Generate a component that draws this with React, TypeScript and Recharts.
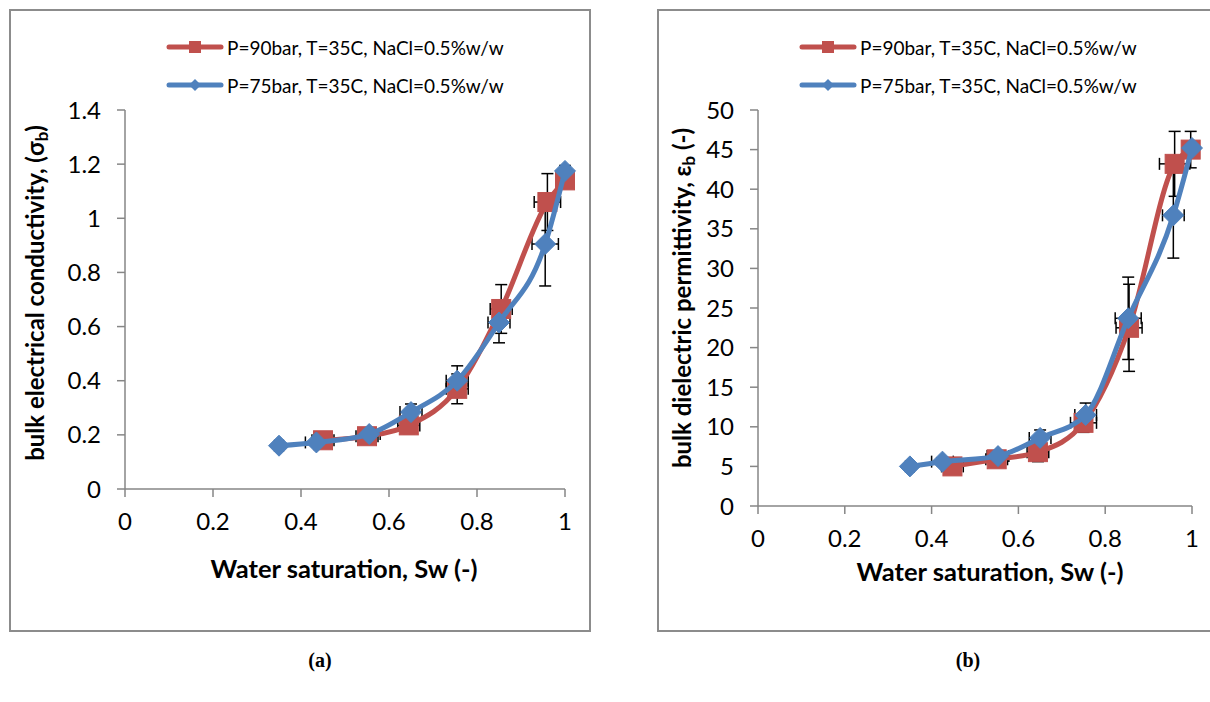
import React from 'react';
import { ScatterChart, Scatter, XAxis, YAxis, ErrorBar } from 'recharts';

const RED = '#C0504D';
const BLUE = '#4F81BD';
const AXIS = '#868686';
const FONT = 'Lato, "Open Sans", sans-serif';

// ---------- Panel (a): bulk electrical conductivity ----------
const swA90 = [0.45, 0.55, 0.645, 0.755, 0.855, 0.96, 1.0];
const sigma90 = [0.18, 0.195, 0.235, 0.37, 0.665, 1.06, 1.14];
const sigma90ErrY = [0.01, 0.015, 0.03, 0.055, 0.09, 0.105, 0.02];
const sigma90ErrX = [0.025, 0.025, 0.025, 0.025, 0.025, 0.03, 0];

const swA75 = [0.35, 0.435, 0.555, 0.65, 0.755, 0.85, 0.955, 1.0];
const sigma75 = [0.16, 0.172, 0.203, 0.284, 0.4, 0.615, 0.905, 1.175];
const sigma75ErrY = [0.01, 0.01, 0.012, 0.03, 0.055, 0.075, 0.155, 0.02];
const sigma75ErrX = [0.01, 0.025, 0.025, 0.025, 0.025, 0.025, 0.03, 0];

const xTicks = [0, 0.2, 0.4, 0.6, 0.8, 1];
const yTicksA = [0, 0.2, 0.4, 0.6, 0.8, 1, 1.2, 1.4];

// ---------- Panel (b): bulk dielectric permittivity ----------
const swB90 = [0.448, 0.55, 0.645, 0.75, 0.855, 0.96, 0.997];
const eps90 = [5.0, 5.9, 6.8, 10.5, 22.5, 43.2, 45.0];
const eps90ErrY = [0.6, 0.7, 1.2, 1.2, 5.5, 4.1, 2.3];
const eps90ErrX = [0.025, 0.025, 0.025, 0.03, 0.03, 0.035, 0];

const swB75 = [0.35, 0.425, 0.553, 0.65, 0.755, 0.853, 0.957, 1.0];
const eps75 = [5.0, 5.6, 6.3, 8.6, 11.5, 23.7, 36.7, 45.2];
const eps75ErrY = [0.3, 0.5, 0.5, 1.0, 1.5, 5.2, 5.4, 0.8];
const eps75ErrX = [0.01, 0.025, 0.025, 0.025, 0.025, 0.03, 0.025, 0];

const yTicksB = [0, 5, 10, 15, 20, 25, 30, 35, 40, 45, 50];

const legend90 = 'P=90bar, T=35C, NaCl=0.5%w/w';
const legend75 = 'P=75bar, T=35C, NaCl=0.5%w/w';

const build = (xs: number[], ys: number[], ex: number[], ey: number[]) =>
  xs.map((x, i) => ({ x, y: ys[i], ex: ex[i], ey: ey[i] }));

const SquareShape = (props: any) => {
  const { cx, cy } = props;
  if (cx == null || cy == null) return null;
  const s = 19;
  return <rect x={cx - s / 2} y={cy - s / 2} width={s} height={s} fill={RED} stroke={RED} strokeWidth={1} />;
};

const DiamondShape = (props: any) => {
  const { cx, cy } = props;
  if (cx == null || cy == null) return null;
  const r = 10.5;
  return (
    <polygon
      points={`${cx},${cy - r} ${cx + r},${cy} ${cx},${cy + r} ${cx - r},${cy}`}
      fill={BLUE}
      stroke={BLUE}
      strokeWidth={1}
    />
  );
};

const LegendRow = ({ x, y, color, kind, text }: any) => (
  <div style={{ position: 'absolute', left: x, top: y - 12, height: 24, display: 'flex', alignItems: 'center' }}>
    <svg width={58} height={24} style={{ display: 'block' }}>
      <line x1={3} y1={12} x2={55} y2={12} stroke={color} strokeWidth={5} strokeLinecap="round" />
      {kind === 'square' ? (
        <rect x={23} y={6} width={12} height={12} fill={color} />
      ) : (
        <polygon points="29,6 35,12 29,18 23,12" fill={color} />
      )}
    </svg>
    <span style={{ fontFamily: FONT, fontSize: 19, marginLeft: 3, whiteSpace: 'nowrap', color: '#000' }}>{text}</span>
  </div>
);

type PanelProps = {
  chartLeft: number;
  width: number;
  height: number;
  margin: { top: number; right: number; bottom: number; left: number };
  yDomain: [number, number];
  yTicks: number[];
  red: any[];
  blue: any[];
};

const Panel = ({ chartLeft, width, height, margin, yDomain, yTicks, red, blue }: PanelProps) => (
  <div style={{ position: 'absolute', left: chartLeft, top: 0 }}>
    <ScatterChart width={width} height={height} margin={margin}>
      <XAxis
        type="number"
        dataKey="x"
        domain={[0, 1]}
        ticks={xTicks}
        interval={0}
        tickFormatter={(v: number) => String(Math.round(v * 10) / 10)}
        axisLine={{ stroke: AXIS, strokeWidth: 1.5 }}
        tickLine={{ stroke: AXIS, strokeWidth: 1.5 }}
        tickSize={8}
        tickMargin={16}
        height={40}
        tick={{ fill: '#000', fontSize: 24, fontFamily: FONT }}
      />
      <YAxis
        type="number"
        dataKey="y"
        domain={yDomain}
        ticks={yTicks}
        interval={0}
        tickFormatter={(v: number) => String(Math.round(v * 10) / 10)}
        axisLine={{ stroke: AXIS, strokeWidth: 1.5 }}
        tickLine={{ stroke: AXIS, strokeWidth: 1.5 }}
        tickSize={8}
        tickMargin={16}
        width={60}
        tick={{ fill: '#000', fontSize: 24, fontFamily: FONT }}
      />
      <Scatter
        data={red}
        isAnimationActive={false}
        line={{ stroke: RED, strokeWidth: 5 }}
        lineJointType="monotoneX"
        shape={SquareShape}
        fill={RED}
      >
        <ErrorBar dataKey="ey" direction="y" width={6} stroke="#000" strokeWidth={1.5} isAnimationActive={false} />
        <ErrorBar dataKey="ex" direction="x" width={6} stroke="#000" strokeWidth={1.5} isAnimationActive={false} />
      </Scatter>
      <Scatter
        data={blue}
        isAnimationActive={false}
        line={{ stroke: BLUE, strokeWidth: 5 }}
        lineJointType="monotoneX"
        shape={DiamondShape}
        fill={BLUE}
      >
        <ErrorBar dataKey="ey" direction="y" width={6} stroke="#000" strokeWidth={1.5} isAnimationActive={false} />
        <ErrorBar dataKey="ex" direction="x" width={6} stroke="#000" strokeWidth={1.5} isAnimationActive={false} />
      </Scatter>
    </ScatterChart>
  </div>
);

const titleStyle: React.CSSProperties = {
  position: 'absolute',
  fontFamily: FONT,
  fontWeight: 700,
  fontSize: 25.5,
  whiteSpace: 'nowrap',
  color: '#000',
  transform: 'translate(-50%, -50%)',
  lineHeight: 1,
};

const yTitleStyle: React.CSSProperties = {
  ...titleStyle,
  fontSize: 24,
  transform: 'translate(-50%, -50%) rotate(-90deg)',
};

const subStyle: React.CSSProperties = { fontSize: '0.7em', verticalAlign: '-0.25em', lineHeight: 0 };

const panelLabel: React.CSSProperties = {
  position: 'absolute',
  top: 660,
  transform: 'translate(-50%, -50%)',
  fontFamily: '"Liberation Serif", "Times New Roman", serif',
  fontWeight: 700,
  fontSize: 20,
};

export default function App() {
  const redA = build(swA90, sigma90, sigma90ErrX, sigma90ErrY);
  const blueA = build(swA75, sigma75, sigma75ErrX, sigma75ErrY);
  const redB = build(swB90, eps90, eps90ErrX, eps90ErrY);
  const blueB = build(swB75, eps75, eps75ErrX, eps75ErrY);

  return (
    <div style={{ position: 'absolute', left: 0, top: 0, width: 1210, height: 702, background: '#fff', overflow: 'hidden' }}>
      {/* frames */}
      <div style={{ position: 'absolute', left: 9, top: 9, width: 582, height: 623, border: '2px solid #8c8c8c', boxSizing: 'border-box' }} />
      <div style={{ position: 'absolute', left: 657, top: 9, width: 600, height: 623, border: '2px solid #8c8c8c', boxSizing: 'border-box' }} />

      <Panel
        chartLeft={0}
        width={600}
        height={640}
        margin={{ top: 110, right: 35, bottom: 111, left: 65 }}
        yDomain={[0, 1.4]}
        yTicks={yTicksA}
        red={redA}
        blue={blueA}
      />
      <Panel
        chartLeft={600}
        width={610}
        height={640}
        margin={{ top: 110, right: 18, bottom: 94, left: 98 }}
        yDomain={[0, 50]}
        yTicks={yTicksB}
        red={redB}
        blue={blueB}
      />

      {/* legends */}
      <LegendRow x={166} y={47} color={RED} kind="square" text={legend90} />
      <LegendRow x={166} y={85} color={BLUE} kind="diamond" text={legend75} />
      <LegendRow x={799} y={47} color={RED} kind="square" text={legend90} />
      <LegendRow x={799} y={85} color={BLUE} kind="diamond" text={legend75} />

      {/* axis titles */}
      <div style={{ ...titleStyle, left: 344, top: 569 }}>Water saturation, Sw (-)</div>
      <div style={{ ...titleStyle, left: 990, top: 572 }}>Water saturation, Sw (-)</div>
      <div style={{ ...yTitleStyle, left: 35, top: 293 }}>
        bulk electrical conductivity, (σ<span style={subStyle}>b</span>)
      </div>
      <div style={{ ...yTitleStyle, left: 682, top: 298 }}>
        bulk dielectric permittivity, ε<span style={subStyle}>b</span> (-)
      </div>

      {/* panel labels */}
      <div style={{ ...panelLabel, left: 320 }}>(a)</div>
      <div style={{ ...panelLabel, left: 968 }}>(b)</div>
    </div>
  );
}
